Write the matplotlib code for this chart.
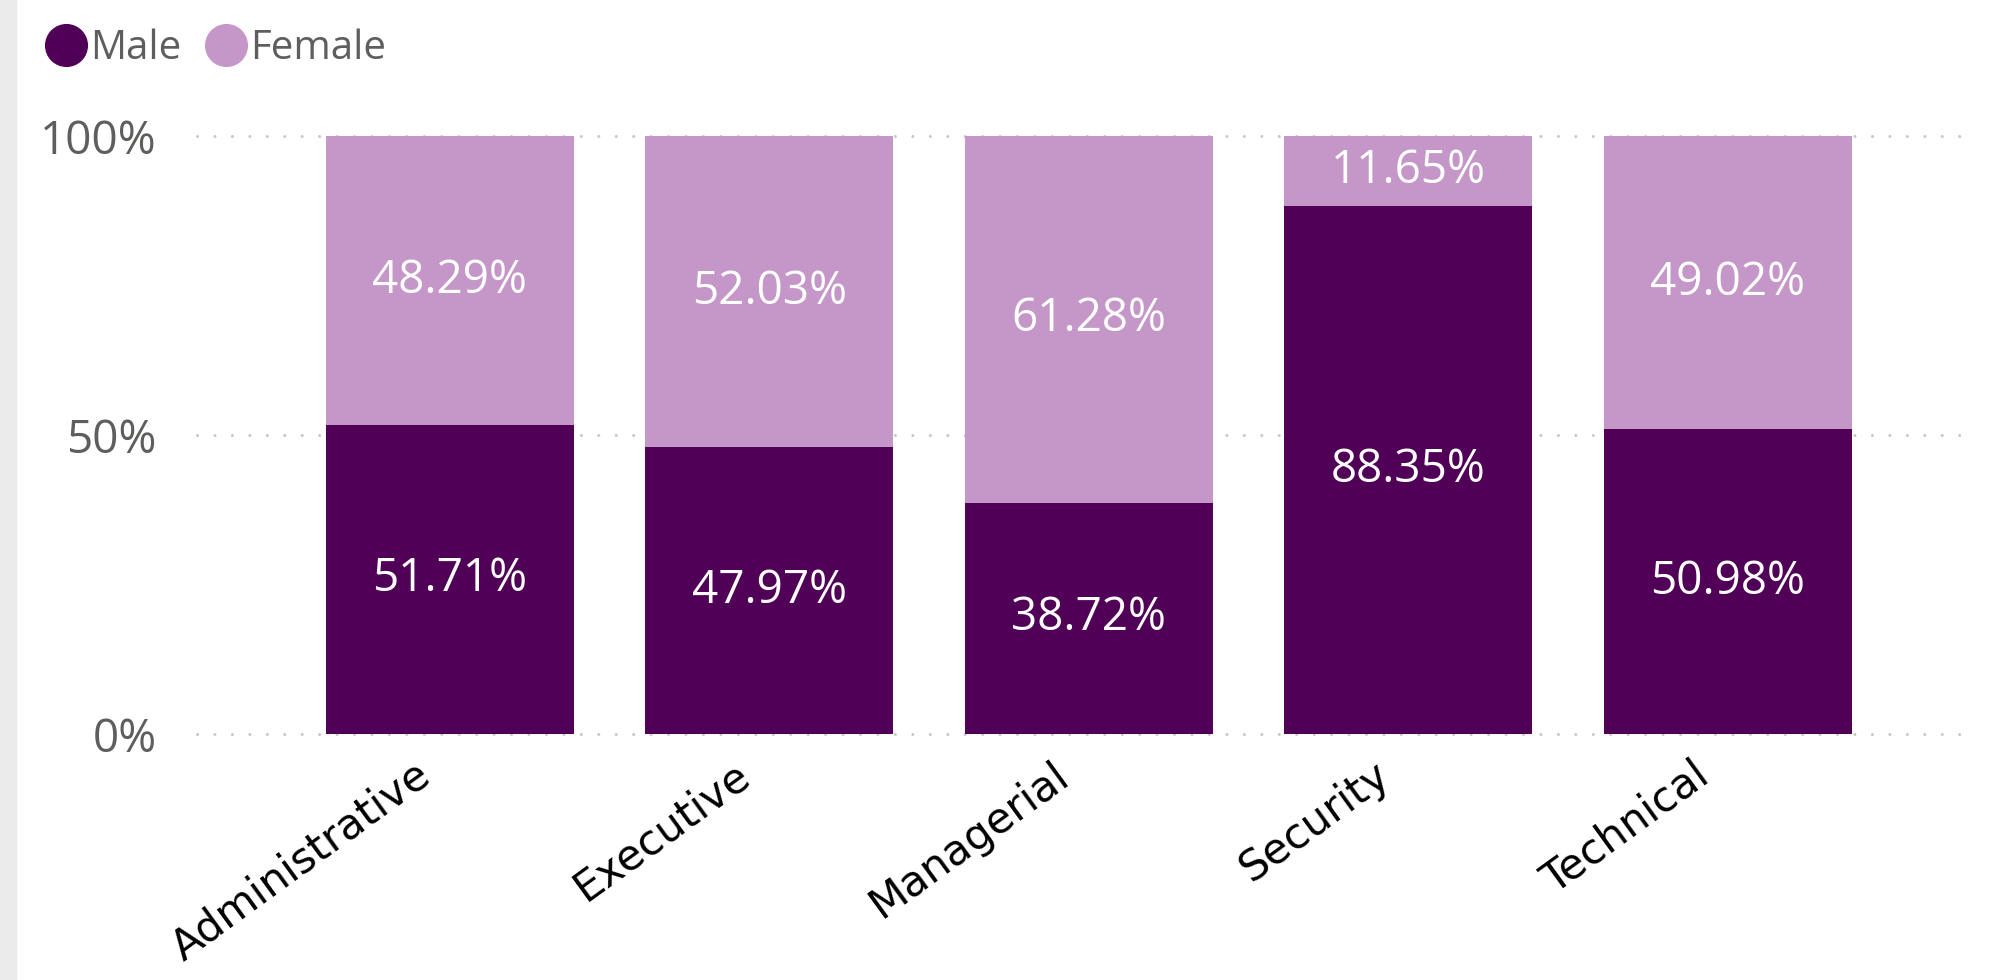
import matplotlib
matplotlib.use("Agg")
import matplotlib.pyplot as plt
from matplotlib.lines import Line2D
from matplotlib.patches import Rectangle
import matplotlib.transforms as mtransforms
import numpy as np

categories = ["Administrative", "Executive", "Managerial", "Security", "Technical"]
male = [51.71, 47.97, 38.72, 88.35, 50.98]
female = [48.29, 52.03, 61.28, 11.65, 49.02]
yticks = [0, 50, 100]
ytick_labels = ["0%", "50%", "100%"]

MALE_C = "#500057"
FEMALE_C = "#C497C8"
GRAY = "#605E5C"

plt.rcParams['font.family'] = ['Open Sans', 'DejaVu Sans']

fig = plt.figure(figsize=(19.97, 9.8), dpi=100)
fig.patches.append(Rectangle((0, 0), 16 / 1997, 1, transform=fig.transFigure,
                             color="#EBEBEB", zorder=0))
ax = fig.add_axes([0.0987, 0.251, 0.8898, 0.610])

x = np.arange(len(categories))
w = 0.776
mv = np.array(male)
fv = np.array(female)
ax.bar(x, mv, width=w, color=MALE_C, zorder=2)
ax.bar(x, fv, width=w, bottom=mv, color=FEMALE_C, zorder=2)

for i in range(len(categories)):
    ax.text(x[i], mv[i] / 2, f"{mv[i]:.2f}%", color="white", ha="center",
            va="center", fontsize=33, zorder=3)
    ax.text(x[i], mv[i] + fv[i] / 2, f"{fv[i]:.2f}%", color="white", ha="center",
            va="center", fontsize=33, zorder=3)

ax.set_xlim(-0.79, 4.77)
ax.set_ylim(0, 100)
ax.set_yticks(yticks)
ax.set_yticklabels(ytick_labels, fontsize=33, color=GRAY)
ax.set_xticks(x)
ax.set_xticklabels(categories, rotation=36, ha="right", rotation_mode="anchor",
                   fontsize=30.5, color="black", family=["DejaVu Sans"])
ax.tick_params(axis="both", length=0)
ax.tick_params(axis="y", pad=29)
ax.tick_params(axis="x", pad=14)
offset = mtransforms.ScaledTranslation(-0.36, 0, fig.dpi_scale_trans)
for lab in ax.get_xticklabels():
    lab.set_transform(lab.get_transform() + offset)
for s in ax.spines.values():
    s.set_visible(False)

ax.yaxis.grid(True, color="#C8C8C8", linewidth=2.2, linestyle=(0, (0.01, 5.7)),
              zorder=1)
ax.set_axisbelow(True)
for gl in ax.get_ygridlines():
    gl.set_clip_on(False)
    gl.set_dash_capstyle("round")

handles = [Line2D([], [], marker="o", linestyle="none", markersize=30,
                  markerfacecolor=MALE_C, markeredgecolor=MALE_C, label="Male"),
           Line2D([], [], marker="o", linestyle="none", markersize=30,
                  markerfacecolor=FEMALE_C, markeredgecolor=FEMALE_C, label="Female")]
leg = fig.legend(handles=handles, loc="center left", bbox_to_anchor=(0.013, 0.950),
                 ncol=2, frameon=False, fontsize=29, handletextpad=0.0,
                 columnspacing=0.5, handlelength=1.2, borderaxespad=0)
for t in leg.get_texts():
    t.set_color(GRAY)

fig.savefig("out.png", dpi=100)
